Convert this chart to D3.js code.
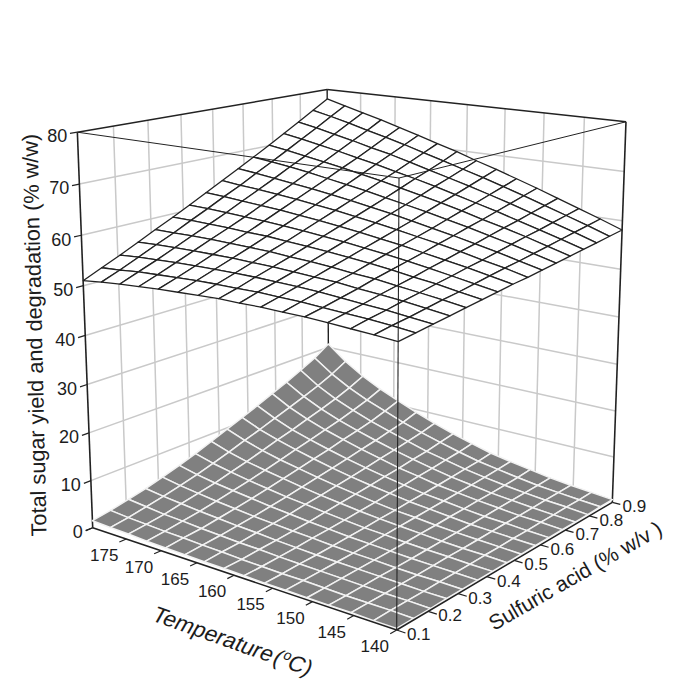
<!DOCTYPE html>
<html>
<head>
<meta charset="utf-8" />
<title>Total sugar yield and degradation</title>
<script src="https://d3js.org/d3.v7.min.js"></script>
<style>
  body { margin: 0; background: #fff; }
  text { font-family: "Liberation Sans", Arial, sans-serif; fill: #1c1c1c; }
</style>
</head>
<body>
<div id="chart"></div>
<script>
// tick values
const tempTicks = [140, 145, 150, 155, 160, 165, 170, 175, 180];
const tempLabels = ['140', '145', '150', '155', '160', '165', '170', '175', ''];
const acidTicks = [0.1, 0.2, 0.3, 0.4, 0.5, 0.6, 0.7, 0.8, 0.9];
const zTicks = [0, 10, 20, 30, 40, 50, 60, 70, 80];

// mesh positions of the two surfaces
const meshTemp = [140, 142.67, 145.33, 148, 150.67, 153.33, 156, 158.67, 161.33, 164, 166.67, 169.33, 172, 174.67, 177.33, 180];
const meshAcid = [0.1, 0.153, 0.207, 0.26, 0.313, 0.367, 0.42, 0.473, 0.527, 0.58, 0.633, 0.687, 0.74, 0.793, 0.847, 0.9];

// total sugar yield, one row per meshTemp, one column per meshAcid
const sugarYield = [
  [52.2, 52.6, 53.0, 53.4, 53.8, 54.2, 54.6, 55.0, 55.3, 55.7, 56.1, 56.5, 56.9, 57.3, 57.7, 58.1],
  [52.5, 53.0, 53.4, 53.9, 54.4, 54.8, 55.3, 55.8, 56.3, 56.7, 57.2, 57.7, 58.2, 58.7, 59.2, 59.7],
  [52.7, 53.3, 53.8, 54.4, 54.9, 55.5, 56.0, 56.6, 57.1, 57.7, 58.3, 58.9, 59.4, 60.0, 60.6, 61.2],
  [52.9, 53.5, 54.1, 54.8, 55.4, 56.0, 56.7, 57.3, 58.0, 58.6, 59.3, 60.0, 60.6, 61.3, 62.0, 62.7],
  [53.1, 53.7, 54.4, 55.1, 55.9, 56.6, 57.3, 58.0, 58.8, 59.5, 60.3, 61.0, 61.8, 62.6, 63.4, 64.2],
  [53.1, 53.9, 54.7, 55.5, 56.2, 57.1, 57.9, 58.7, 59.5, 60.3, 61.2, 62.1, 62.9, 63.8, 64.7, 65.6],
  [53.2, 54.0, 54.9, 55.7, 56.6, 57.5, 58.4, 59.3, 60.2, 61.1, 62.1, 63.1, 64.0, 65.0, 66.0, 67.0],
  [53.1, 54.1, 55.0, 55.9, 56.9, 57.9, 58.9, 59.9, 60.9, 61.9, 62.9, 64.0, 65.1, 66.1, 67.2, 68.3],
  [53.1, 54.0, 55.1, 56.1, 57.1, 58.2, 59.3, 60.4, 61.5, 62.6, 63.7, 64.9, 66.1, 67.2, 68.4, 69.7],
  [52.9, 54.0, 55.1, 56.2, 57.4, 58.5, 59.7, 60.9, 62.1, 63.3, 64.5, 65.8, 67.0, 68.3, 69.6, 70.9],
  [52.7, 53.9, 55.1, 56.3, 57.5, 58.8, 60.0, 61.3, 62.6, 63.9, 65.2, 66.6, 68.0, 69.4, 70.8, 72.2],
  [52.5, 53.7, 55.0, 56.3, 57.6, 58.9, 60.3, 61.7, 63.1, 64.5, 65.9, 67.4, 68.8, 70.3, 71.9, 73.4],
  [52.2, 53.5, 54.9, 56.3, 57.7, 59.1, 60.5, 62.0, 63.5, 65.0, 66.6, 68.1, 69.7, 71.3, 72.9, 74.6],
  [51.9, 53.3, 54.7, 56.2, 57.7, 59.2, 60.7, 62.3, 63.9, 65.5, 67.2, 68.8, 70.5, 72.2, 74.0, 75.7],
  [51.5, 52.9, 54.5, 56.1, 57.6, 59.3, 60.9, 62.6, 64.2, 66.0, 67.7, 69.5, 71.3, 73.1, 75.0, 76.8],
  [51.0, 52.6, 54.2, 55.9, 57.6, 59.3, 61.0, 62.8, 64.6, 66.4, 68.2, 70.1, 72.0, 73.9, 75.9, 77.9]
];

// degradation, same layout
const degradation = [
  [0.3, 0.3, 0.3, 0.4, 0.4, 0.4, 0.4, 0.4, 0.4, 0.5, 0.5, 0.5, 0.5, 0.5, 0.6, 0.6],
  [0.3, 0.4, 0.4, 0.4, 0.5, 0.5, 0.5, 0.6, 0.6, 0.7, 0.7, 0.8, 0.8, 0.9, 0.9, 1.0],
  [0.4, 0.4, 0.4, 0.5, 0.5, 0.6, 0.7, 0.7, 0.8, 0.9, 1.0, 1.0, 1.1, 1.2, 1.3, 1.4],
  [0.4, 0.4, 0.5, 0.6, 0.6, 0.7, 0.8, 0.9, 1.0, 1.1, 1.2, 1.4, 1.5, 1.6, 1.7, 1.9],
  [0.4, 0.5, 0.6, 0.7, 0.8, 0.9, 1.0, 1.2, 1.3, 1.5, 1.6, 1.8, 1.9, 2.1, 2.3, 2.6],
  [0.5, 0.6, 0.7, 0.8, 0.9, 1.1, 1.3, 1.5, 1.7, 1.9, 2.1, 2.3, 2.5, 2.7, 3.0, 3.3],
  [0.5, 0.6, 0.8, 0.9, 1.1, 1.3, 1.5, 1.8, 2.0, 2.3, 2.5, 2.8, 3.1, 3.4, 3.7, 4.1],
  [0.6, 0.7, 0.9, 1.1, 1.4, 1.6, 1.9, 2.2, 2.5, 2.9, 3.2, 3.6, 3.9, 4.3, 4.7, 5.2],
  [0.7, 0.8, 1.1, 1.3, 1.6, 1.9, 2.3, 2.7, 3.1, 3.5, 3.9, 4.3, 4.8, 5.2, 5.8, 6.4],
  [0.7, 1.0, 1.2, 1.6, 1.9, 2.3, 2.8, 3.2, 3.7, 4.2, 4.7, 5.3, 5.8, 6.4, 7.0, 7.8],
  [0.8, 1.1, 1.4, 1.8, 2.2, 2.7, 3.2, 3.8, 4.4, 5.0, 5.6, 6.3, 6.9, 7.6, 8.3, 9.3],
  [0.9, 1.3, 1.6, 2.1, 2.6, 3.2, 3.8, 4.5, 5.2, 5.9, 6.6, 7.4, 8.1, 8.9, 9.9, 11.0],
  [1.0, 1.4, 1.9, 2.4, 3.0, 3.7, 4.4, 5.2, 6.0, 6.9, 7.7, 8.6, 9.4, 10.4, 11.5, 12.8],
  [1.2, 1.6, 2.1, 2.8, 3.5, 4.2, 5.1, 6.0, 7.0, 8.0, 8.9, 10.0, 11.0, 12.1, 13.4, 14.9],
  [1.3, 1.8, 2.5, 3.2, 4.0, 4.9, 5.9, 7.0, 8.2, 9.3, 10.5, 11.7, 12.9, 14.2, 15.7, 17.5],
  [1.5, 2.1, 2.9, 3.7, 4.7, 5.8, 7.0, 8.3, 9.7, 11.0, 12.4, 13.9, 15.3, 16.9, 18.6, 20.8]
];

// dimensions
const width = 685;
const height = 685;

const svg = d3.select('#chart')
  .append('svg')
  .attr('width', width)
  .attr('height', height);

// domain to unit box
const tempScale = d3.scaleLinear().domain([140, 180]).range([0, 1]);
const acidScale = d3.scaleLinear().domain([0.1, 0.9]).range([0, 1]);
const zScale = d3.scaleLinear().domain([0, 80]).range([0, 1]);

// perspective camera, set from the box corners on screen
const origin = [396.7, 630];
const tempEnd = [92.7, 527.7];
const acidEnd = [612.3, 502.3];
const zEnd = [399, 178];
const tempW = 1.15;
const acidW = 1.197;
const zW = 0.938;

function project(temp, acid, z, du = 0, dv = 0) {
  const u = tempScale(temp) + du;
  const v = acidScale(acid) + dv;
  const w = zScale(z);
  const h = 1 + u * (tempW - 1) + v * (acidW - 1) + w * (zW - 1);
  const x = origin[0] + u * (tempW * tempEnd[0] - origin[0]) + v * (acidW * acidEnd[0] - origin[0]) + w * (zW * zEnd[0] - origin[0]);
  const y = origin[1] + u * (tempW * tempEnd[1] - origin[1]) + v * (acidW * acidEnd[1] - origin[1]) + w * (zW * zEnd[1] - origin[1]);
  return [x / h, y / h];
}

const line = d3.line();

function seg(parent, a, b, color, w) {
  parent.append('path')
    .attr('d', line([a, b]))
    .attr('fill', 'none')
    .attr('stroke', color)
    .attr('stroke-width', w);
}

// back walls
const walls = svg.append('g');
const gridColor = '#c9c9c9';
zTicks.slice(1, -1).forEach(z => {
  seg(walls, project(180, 0.1, z), project(180, 0.9, z), gridColor, 1.5);
  seg(walls, project(180, 0.9, z), project(140, 0.9, z), gridColor, 1.5);
});
acidTicks.slice(1, -1).forEach(a => {
  seg(walls, project(180, a, 0), project(180, a, 80), gridColor, 1.5);
});
tempTicks.slice(1, -1).forEach(t => {
  seg(walls, project(t, 0.9, 0), project(t, 0.9, 80), gridColor, 1.5);
});

// back edges of the box
const dark = '#222';
const frame = svg.append('g');
seg(frame, project(180, 0.9, 0), project(180, 0.9, 80), dark, 1.4);
seg(frame, project(180, 0.1, 80), project(180, 0.9, 80), dark, 1.4);
seg(frame, project(180, 0.9, 80), project(140, 0.9, 80), dark, 1.4);
seg(frame, project(180, 0.1, 0), project(180, 0.1, 80), dark, 1.6);
seg(frame, project(140, 0.9, 0), project(140, 0.9, 80), dark, 1.6);

// surface mesh, far cells first
function drawSurface(values, fill, stroke, strokeWidth) {
  const g = svg.append('g');
  for (let i = meshTemp.length - 2; i >= 0; i--) {
    for (let j = meshAcid.length - 2; j >= 0; j--) {
      const cell = [
        project(meshTemp[i], meshAcid[j], values[i][j]),
        project(meshTemp[i + 1], meshAcid[j], values[i + 1][j]),
        project(meshTemp[i + 1], meshAcid[j + 1], values[i + 1][j + 1]),
        project(meshTemp[i], meshAcid[j + 1], values[i][j + 1])
      ];
      g.append('path')
        .attr('d', line(cell) + 'Z')
        .attr('fill', fill)
        .attr('stroke', stroke)
        .attr('stroke-width', strokeWidth)
        .attr('stroke-linejoin', 'round');
    }
  }
}

drawSurface(degradation, '#808080', '#f2f2f2', 1.5);
drawSurface(sugarYield, '#ffffff', '#222222', 1.3);

// front edges, they run over the surfaces
const front = svg.append('g');
seg(front, project(140, 0.1, 0), project(140, 0.1, 80), dark, 1.1);
seg(front, project(180, 0.1, 80), project(140, 0.1, 80), dark, 1);
seg(front, project(140, 0.9, 80), project(140, 0.1, 80), dark, 1);
seg(front, project(140, 0.1, 0), project(180, 0.1, 0), dark, 1.5);
seg(front, project(140, 0.1, 0), project(140, 0.9, 0), dark, 1.5);

// temperature axis
tempTicks.forEach((t, i) => {
  const p = project(t, 0.1, 0);
  seg(front, p, project(t, 0.1, 0, 0, -0.025), dark, 1.2);
  front.append('text')
    .attr('x', p[0] - 22)
    .attr('y', p[1] + 16)
    .attr('dy', '0.35em')
    .attr('text-anchor', 'middle')
    .style('font-size', '17px')
    .text(tempLabels[i]);
});

// acid axis
acidTicks.forEach(a => {
  const p = project(140, a, 0);
  seg(front, p, project(140, a, 0, -0.025, 0), dark, 1.2);
  front.append('text')
    .attr('x', p[0] + 22)
    .attr('y', p[1] + 4)
    .attr('dy', '0.35em')
    .attr('text-anchor', 'middle')
    .style('font-size', '17px')
    .text(d3.format('.1f')(a));
});

// z axis
zTicks.forEach(z => {
  const p = project(180, 0.1, z);
  seg(front, p, project(180, 0.1, z, 0, -0.025), dark, 1.2);
  front.append('text')
    .attr('x', p[0] - 10)
    .attr('y', p[1] + 4)
    .attr('dy', '0.35em')
    .attr('text-anchor', 'end')
    .style('font-size', '18px')
    .text(z);
});

// axis titles
svg.append('text')
  .attr('transform', 'translate(42,335) rotate(-91.3)')
  .attr('text-anchor', 'middle')
  .style('font-size', '21.7px')
  .text('Total sugar yield and degradation (% w/w)');

const tempTitle = svg.append('text')
  .attr('transform', 'translate(229,648) rotate(19.5) skewX(-10)')
  .attr('text-anchor', 'middle')
  .style('font-size', '22.5px');
tempTitle.append('tspan').text('Temperature');
tempTitle.append('tspan').attr('dx', 2).text('(');
tempTitle.append('tspan').attr('dy', -8).style('font-size', '14px').text('o');
tempTitle.append('tspan').attr('dy', 8).text('C)');

svg.append('text')
  .attr('transform', 'translate(579,582) rotate(-30)')
  .attr('text-anchor', 'middle')
  .style('font-size', '21px')
  .text('Sulfuric acid (% w/v )');
</script>
</body>
</html>
